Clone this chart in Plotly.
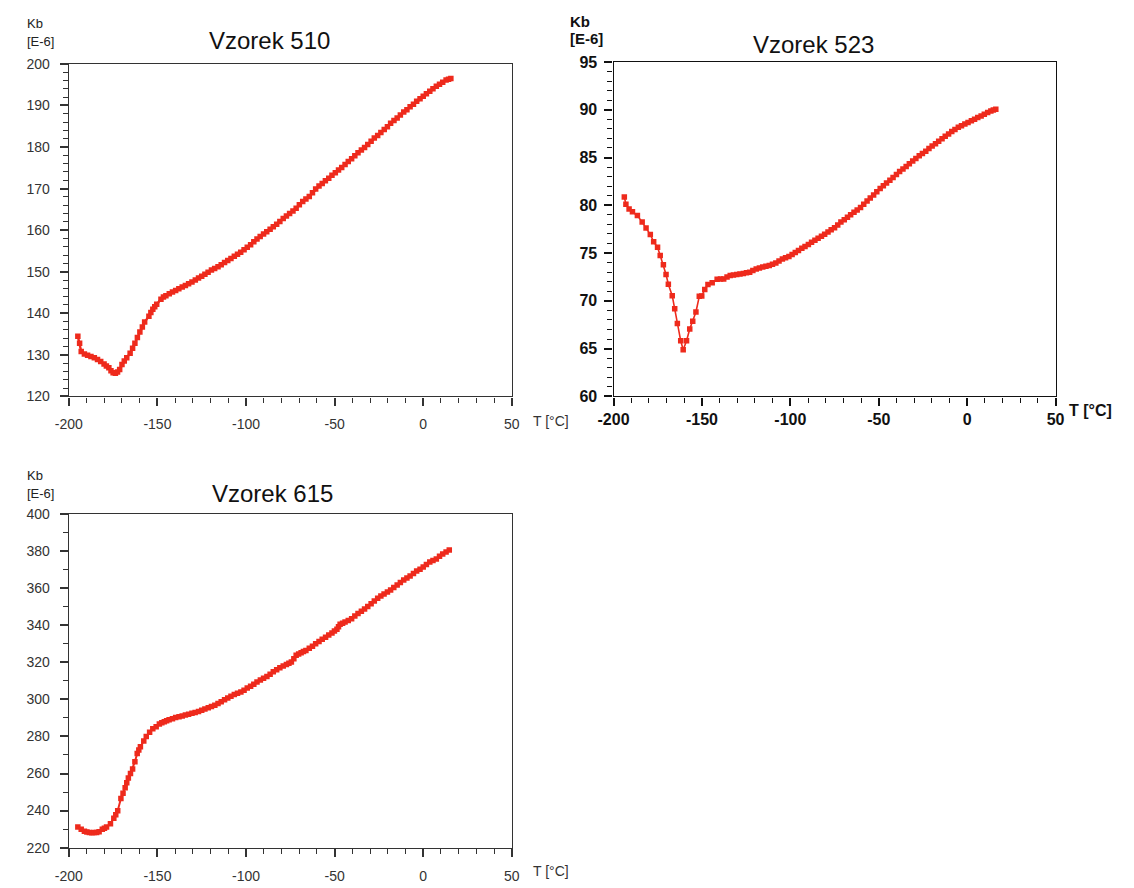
import plotly.graph_objects as go

# Vzorek 510: temperature [°C] and Kb [E-6]
t_510 = [-194.9, -193.9, -193.0, -191.2, -189.4, -187.5, -185.6, -183.8, -182.0, -180.1, -178.8, -177.4,
         -176.2, -175.0, -173.7, -172.5, -171.3, -170.0, -168.7, -167.3, -165.4, -164.0, -162.7, -161.3,
         -159.9, -158.5, -157.2, -154.8, -153.7, -152.6, -151.5, -150.4, -148.0, -146.6, -145.2, -143.3,
         -141.5, -139.7, -137.9, -136.0, -134.2, -132.4, -130.5, -128.6, -126.8, -125.0, -123.2, -121.4,
         -119.5, -117.7, -115.8, -114.0, -112.1, -110.3, -108.5, -106.6, -104.8, -103.0, -101.1, -99.3,
         -97.4, -95.6, -93.8, -92.0, -90.1, -88.3, -86.4, -84.6, -82.7, -80.9, -79.0, -77.2, -75.4, -73.5,
         -71.7, -69.9, -68.0, -66.2, -64.3, -62.5, -60.7, -58.8, -57.0, -55.2, -53.3, -51.5, -49.6, -47.8,
         -46.0, -44.1, -42.3, -40.4, -38.6, -36.8, -34.9, -33.1, -31.3, -29.4, -27.6, -25.7, -23.9, -22.0,
         -20.2, -18.4, -16.5, -14.7, -12.9, -11.0, -9.2, -7.4, -5.5, -3.7, -1.8, 0.0, 1.8, 3.7, 5.5, 7.4,
         9.2, 11.0, 12.9, 14.3, 15.6]
k_510 = [134.5, 132.8, 130.8, 130.2, 129.9, 129.6, 129.3, 128.9, 128.4, 127.8, 127.3, 126.9,
         126.2, 125.7, 125.6, 125.9, 126.5, 127.7, 128.5, 129.3, 130.4, 131.6, 132.8, 134.2,
         135.5, 136.7, 137.9, 139.3, 140.2, 141.0, 141.6, 142.2, 143.4, 143.9, 144.2, 144.7,
         145.1, 145.5, 145.9, 146.3, 146.7, 147.1, 147.5, 148.0, 148.5, 148.9, 149.4, 149.9,
         150.4, 150.8, 151.2, 151.7, 152.2, 152.7, 153.2, 153.7, 154.2, 154.7, 155.3, 155.9,
         156.5, 157.2, 157.9, 158.5, 159.1, 159.6, 160.2, 160.8, 161.4, 162.1, 162.8, 163.4, 164.0, 164.6,
         165.3, 166.1, 166.9, 167.5, 168.1, 169.0, 169.9, 170.6, 171.2, 171.9, 172.5, 173.2, 173.8, 174.5,
         175.1, 175.8, 176.5, 177.2, 177.9, 178.6, 179.3, 179.9, 180.6, 181.4, 182.2, 182.8, 183.5, 184.2,
         184.9, 185.7, 186.4, 187.0, 187.7, 188.4, 189.0, 189.7, 190.3, 191.0, 191.6, 192.2, 192.8, 193.4,
         194.0, 194.6, 195.1, 195.6, 196.1, 196.3, 196.5]

# Vzorek 523
t_523 = [-193.9, -193.0, -191.2, -189.3, -186.5, -183.8, -181.6, -179.2, -177.3, -175.1, -173.6, -171.8,
         -170.3, -169.0, -166.8, -165.4, -163.9, -162.0, -160.6, -158.7, -156.9, -155.2, -153.4, -151.5,
         -150.1, -148.4, -146.6, -144.2, -141.4, -139.5, -137.7, -135.8, -134.0, -132.2, -130.3, -128.5,
         -126.6, -124.8, -123.0, -121.2, -119.3, -117.5, -115.6, -113.8, -111.9, -110.1, -108.2, -106.4,
         -104.5, -102.7, -100.8, -99.0, -97.2, -95.4, -93.5, -91.7, -89.8, -88.0, -86.1, -84.3, -82.4,
         -80.6, -78.7, -76.9, -75.0, -73.2, -71.4, -69.5, -67.7, -65.9, -64.0, -62.2, -60.3, -58.5, -56.6,
         -54.8, -52.9, -51.1, -49.2, -47.4, -45.6, -43.7, -41.9, -40.0, -38.2, -36.3, -34.5, -32.7, -30.8,
         -29.0, -27.1, -25.3, -23.4, -21.6, -19.8, -17.9, -16.1, -14.2, -12.4, -10.5, -8.7, -6.9, -5.0,
         -3.2, -1.3, 0.5, 2.4, 4.2, 6.0, 7.9, 9.7, 11.6, 13.4, 14.8, 16.2]
k_523 = [80.87, 80.12, 79.60, 79.33, 78.92, 78.24, 77.62, 76.94, 76.18, 75.60, 74.75, 73.79,
         72.76, 71.74, 70.54, 69.17, 67.63, 65.82, 64.89, 65.82, 67.05, 67.87, 68.83, 70.47,
         70.50, 71.20, 71.70, 71.90, 72.25, 72.28, 72.30, 72.50, 72.66, 72.70, 72.76, 72.82,
         72.87, 72.93, 73.00, 73.18, 73.34, 73.45, 73.55, 73.62, 73.69, 73.82, 73.96, 74.17,
         74.37, 74.50, 74.64, 74.85, 75.05, 75.28, 75.50, 75.70, 75.91, 76.13, 76.35, 76.55, 76.76,
         76.98, 77.21, 77.43, 77.65, 77.95, 78.24, 78.50, 78.75, 79.00, 79.26, 79.52, 79.78, 80.12, 80.46,
         80.77, 81.08, 81.42, 81.76, 82.05, 82.34, 82.63, 82.92, 83.23, 83.54, 83.80, 84.05, 84.34, 84.63,
         84.90, 85.18, 85.42, 85.66, 85.94, 86.21, 86.45, 86.69, 86.96, 87.23, 87.47, 87.71, 87.94, 88.16,
         88.33, 88.50, 88.67, 88.84, 89.01, 89.18, 89.35, 89.53, 89.70, 89.87, 89.96, 90.04]

# Vzorek 615
t_615 = [-194.9, -193.0, -191.2, -189.8, -188.4, -187.0, -185.7, -184.3, -182.9, -181.1, -179.9, -178.7,
         -176.5, -174.6, -173.5, -172.4, -170.6, -169.4, -168.2, -167.3, -166.4, -165.2, -164.0, -162.7,
         -161.4, -160.5, -159.6, -157.7, -156.3, -154.4, -152.6, -150.7, -148.9, -147.5, -146.1, -144.8,
         -143.4, -141.5, -139.7, -137.8, -136.0, -134.2, -132.4, -130.5, -128.7, -126.8, -125.0, -123.2,
         -121.3, -119.5, -117.6, -115.8, -114.0, -112.1, -110.3, -108.5, -106.6, -104.8, -102.9, -101.1,
         -99.3, -97.4, -95.6, -93.8, -91.9, -90.1, -88.2, -86.4, -84.6, -82.7, -80.9, -79.0, -77.2, -75.8,
         -74.4, -73.0, -71.7, -70.3, -68.9, -67.6, -66.2, -64.3, -62.5, -60.7, -58.8, -57.0, -55.1, -53.3,
         -51.5, -50.1, -48.7, -47.8, -46.9, -45.5, -44.1, -42.3, -40.4, -38.6, -36.8, -34.9, -33.1, -31.3,
         -29.4, -27.6, -25.7, -23.9, -22.1, -20.2, -18.4, -16.6, -14.7, -12.9, -11.0, -9.2, -7.4, -5.5,
         -3.7, -1.8, 0.0, 1.8, 3.7, 5.5, 7.4, 9.2, 11.0, 12.9, 14.7]
k_615 = [231.1, 229.9, 228.8, 228.4, 228.1, 228.0, 228.1, 228.2, 228.5, 229.9, 230.4, 231.1,
         232.9, 235.9, 237.8, 239.9, 246.5, 249.4, 252.3, 255.0, 257.6, 260.0, 262.4, 266.4,
         270.8, 272.7, 274.4, 277.5, 280.0, 282.3, 284.1, 285.3, 286.7, 287.4, 287.9, 288.5,
         289.0, 289.6, 290.2, 290.6, 291.1, 291.6, 292.0, 292.5, 292.9, 293.5, 294.1, 294.8,
         295.5, 296.2, 296.9, 297.8, 298.7, 299.8, 300.8, 301.7, 302.6, 303.3, 304.0, 305.0,
         306.1, 307.1, 308.2, 309.4, 310.5, 311.4, 312.3, 313.6, 314.9, 316.0, 317.1, 318.0, 318.8, 319.5,
         320.2, 322.0, 323.8, 324.5, 325.2, 325.8, 326.4, 327.6, 328.7, 330.0, 331.2, 332.4, 333.5, 334.7,
         335.8, 336.9, 337.9, 339.2, 340.5, 341.1, 341.8, 342.6, 343.5, 345.0, 346.4, 347.6, 348.8, 350.2,
         351.6, 353.1, 354.6, 355.8, 356.9, 358.0, 359.1, 360.4, 361.7, 363.1, 364.4, 365.5, 366.6, 368.0,
         369.3, 370.3, 371.4, 372.8, 374.1, 374.9, 375.8, 377.2, 378.5, 379.6, 380.6]

# Tick values and labels (plain hyphen minus)
x_ticks = [-200, -150, -100, -50, 0, 50]
x_labels = ["-200", "-150", "-100", "-50", "0", "50"]
y_ticks_510 = [120, 130, 140, 150, 160, 170, 180, 190, 200]
y_ticks_523 = [60, 65, 70, 75, 80, 85, 90, 95]
y_ticks_615 = [220, 240, 260, 280, 300, 320, 340, 360, 380, 400]

RED = "#ee2a1c"
W, H = 1134, 888


def px(x):
    return x / W


def py(y):
    return 1 - y / H


fig = go.Figure()

fig.add_trace(go.Scatter(x=t_510, y=k_510, mode="lines+markers", xaxis="x", yaxis="y",
                         line=dict(color=RED, width=2.4),
                         marker=dict(symbol="square", size=5.5, color=RED)))
fig.add_trace(go.Scatter(x=t_523, y=k_523, mode="lines+markers", xaxis="x2", yaxis="y2",
                         line=dict(color=RED, width=1.6),
                         marker=dict(symbol="square", size=5.5, color=RED)))
fig.add_trace(go.Scatter(x=t_615, y=k_615, mode="lines+markers", xaxis="x3", yaxis="y3",
                         line=dict(color=RED, width=2.0),
                         marker=dict(symbol="square", size=5.5, color=RED)))

plain = dict(family="Liberation Sans, Arial, sans-serif", size=14, color="#333333")
bold = dict(family="Liberation Sans, Arial, sans-serif", size=16, color="#111111", weight="bold")


def x_axis(domain, anchor, font, color, standoff):
    return dict(domain=domain, anchor=anchor, range=[-200, 50], tickmode="array",
                tickvals=x_ticks, ticktext=x_labels,
                ticks="outside", ticklen=8, tickwidth=1.5, tickcolor=color,
                showline=True, linecolor=color, linewidth=1.3, mirror=True,
                showgrid=False, zeroline=False, tickfont=font, ticklabelstandoff=standoff,
                minor=dict(tickmode="linear", tick0=-200, dtick=10, ticks="outside", ticklen=5,
                           tickcolor=color, tickwidth=1.3, showgrid=False))


def y_axis(domain, anchor, ticks, minor, font, color, standoff):
    return dict(domain=domain, anchor=anchor, range=[ticks[0], ticks[-1]], tickmode="array",
                tickvals=ticks, ticktext=[str(v) for v in ticks],
                ticks="outside", ticklen=8, tickwidth=1.5, tickcolor=color,
                showline=True, linecolor=color, linewidth=1.3, mirror=True,
                showgrid=False, zeroline=False, tickfont=font, ticklabelstandoff=standoff,
                minor=dict(tickmode="linear", tick0=ticks[0], dtick=minor, ticks="outside", ticklen=5,
                           tickcolor=color, tickwidth=1.3, showgrid=False))


fig.update_layout(
    width=W, height=H, margin=dict(l=0, r=0, t=0, b=0),
    paper_bgcolor="white", plot_bgcolor="white", showlegend=False,
    xaxis=x_axis([px(54), px(507)], "y", plain, "#333333", 7),
    yaxis=y_axis([py(396), py(57)], "x", y_ticks_510, 2, plain, "#333333", 7),
    xaxis2=x_axis([px(611), px(1063)], "y2", bold, "#111111", 0),
    yaxis2=y_axis([py(396), py(55)], "x2", y_ticks_523, 1, bold, "#111111", 4),
    xaxis3=x_axis([px(54), px(507)], "y3", plain, "#333333", 7),
    yaxis3=y_axis([py(856), py(516)], "x3", y_ticks_615, 10, plain, "#333333", 7),
)

title_font = dict(family="Liberation Sans, Arial, sans-serif", size=24, color="#111111")
small = dict(family="Liberation Sans, Arial, sans-serif", size=13, color="#222222")
small_bold = dict(family="Liberation Sans, Arial, sans-serif", size=15, color="#111111", weight="bold")

texts = [
    ("Vzorek 510", 259, 33, title_font, "center"),
    ("Vzorek 523", 815, 37, title_font, "center"),
    ("Vzorek 615", 262, 495, title_font, "center"),
    ("Kb", 9, 16, small, "left"),
    ("[E-6]", 9, 34, small, "left"),
    ("Kb", 564, 14, small_bold, "left"),
    ("[E-6]", 564, 31, small_bold, "left"),
    ("Kb", 9, 477, small, "left"),
    ("[E-6]", 9, 495, small, "left"),
    ("T [°C]", 527, 421, plain, "left"),
    ("T [°C]", 1075, 410, bold, "left"),
    ("T [°C]", 527, 880, plain, "left"),
]
for text, x, y, font, anchor in texts:
    fig.add_annotation(text=text, x=px(x), y=py(y), xref="paper", yref="paper",
                       xanchor=anchor, yanchor="middle", showarrow=False, font=font)

fig.write_html("out.html")
